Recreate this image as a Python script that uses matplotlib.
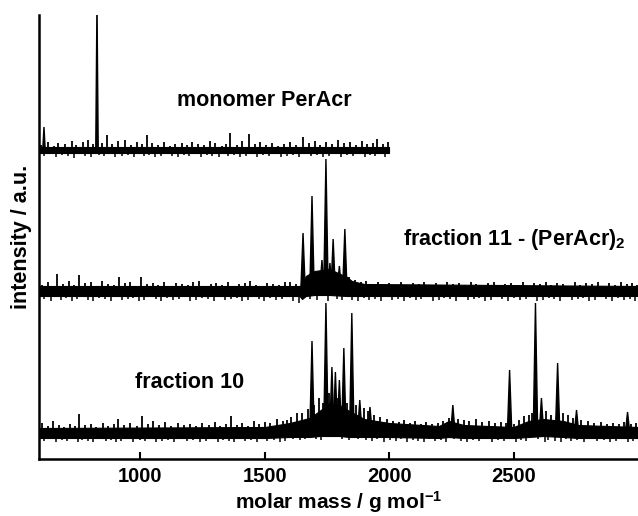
import matplotlib
matplotlib.use("Agg")
import matplotlib.pyplot as plt

# ---------------- data (intensity in a.u., relative to each trace's baseline) -------------
mono_peak_mass = [613, 826]
mono_peak_int = [23, 150]
mono_band_mass = [593, 2000]
mono_band_low = [-3, -3]
mono_band_high = [3, 3]
mono_up_mass = [600, 628, 652, 671, 699, 724, 741, 768, 790, 812, 845, 868, 885, 910, 940,
                962, 985, 1005, 1028, 1046, 1071, 1095, 1118, 1140, 1166, 1188, 1207, 1233, 1258,
                1279, 1302, 1327, 1345, 1361, 1388, 1410, 1437, 1459, 1483, 1505, 1530, 1552,
                1577, 1600, 1625, 1654, 1676, 1701, 1724, 1748, 1772, 1795, 1820, 1843, 1866,
                1890, 1913, 1937, 1951, 1975, 1995]
mono_up_int = [5, 8, 4, 7, 6, 9, 5, 8, 10, 6, 7, 15, 6, 9, 10,
               5, 8, 6, 15, 7, 5, 8, 4, 6, 7, 5, 8, 6, 5,
               9, 7, 4, 6, 17, 5, 9, 16, 6, 8, 5, 7, 4,
               6, 8, 5, 13, 7, 9, 5, 8, 6, 10, 7, 8, 5,
               9, 6, 7, 11, 6, 8]
mono_dn_mass = [612, 638, 662, 684, 710, 733, 755, 779, 801, 833, 856, 876, 897, 925, 951,
                973, 995, 1016, 1037, 1058, 1083, 1106, 1129, 1153, 1177, 1197, 1220, 1245, 1268,
                1290, 1315, 1336, 1353, 1375, 1399, 1423, 1448, 1471, 1494, 1517, 1541, 1564,
                1588, 1612, 1639, 1665, 1688, 1712, 1736, 1760, 1783, 1808, 1831, 1855, 1878,
                1901, 1925, 1944, 1963, 1985]
mono_dn_int = [6, 4, 7, 5, 6, 8, 4, 6, 7, 5, 6, 4, 7, 6, 5,
               7, 4, 6, 5, 7, 6, 4, 6, 7, 5, 6, 4, 7, 5,
               6, 7, 4, 6, 5, 7, 6, 4, 7, 5, 6, 4, 7,
               6, 5, 7, 4, 6, 5, 7, 6, 4, 7, 5, 6, 4,
               7, 5, 6, 4, 7]

f11_peak_mass = [1654, 1690, 1730, 1746, 1762, 1775, 1800, 1822]
f11_peak_int = [58, 95, 31, 132, 28, 52, 25, 62]
f11_band_mass = [593, 1640, 1650, 1665, 1700, 1760, 1830, 1850, 1900, 3000]
f11_band_low = [-5, -5, -8, -5, -4, -4, -5, -5, -5, -5]
f11_band_high = [5, 5, 6, 15, 20, 22, 14, 10, 7, 5]
f11_up_mass = [605, 630, 648, 667, 690, 712, 735, 755, 778, 800, 824, 848, 870, 893, 916,
               938, 960, 983, 1004, 1027, 1050, 1073, 1097, 1120, 1142, 1166, 1190, 1213, 1236,
               1260, 1283, 1306, 1330, 1352, 1375, 1398, 1420, 1441, 1465, 1488, 1511, 1534,
               1557, 1580, 1602, 1625, 1840, 1862, 1885, 1908, 1931, 1955, 1978, 2001, 2025,
               2048, 2071, 2094, 2118, 2141, 2164, 2187, 2210, 2234, 2257, 2280, 2303, 2327,
               2350, 2373, 2396, 2420, 2443, 2466, 2489, 2513, 2536, 2559, 2582, 2606, 2629,
               2652, 2675, 2698, 2722, 2745, 2768, 2791, 2815, 2838, 2861, 2884, 2907, 2931,
               2954, 2977, 2995]
f11_up_int = [6, 9, 5, 17, 7, 10, 6, 16, 8, 9, 5, 10, 7, 6, 14,
              8, 9, 5, 14, 7, 8, 6, 9, 5, 8, 7, 6, 9, 10,
              5, 7, 8, 6, 9, 5, 7, 8, 10, 6, 5, 8, 7,
              6, 9, 9, 7, 14, 11, 9, 10, 6, 9, 7, 8, 6,
              9, 5, 8, 7, 9, 6, 8, 5, 9, 7, 8, 6, 9,
              7, 5, 8, 9, 6, 7, 8, 6, 9, 5, 8, 7, 9,
              6, 8, 7, 5, 9, 6, 8, 7, 9, 5, 8, 6, 9,
              7, 8, 6]
f11_dn_mass = [615, 640, 660, 680, 702, 724, 746, 768, 790, 812, 836, 860, 882, 905, 928,
               950, 972, 995, 1016, 1039, 1062, 1085, 1108, 1131, 1154, 1178, 1201, 1225, 1248,
               1272, 1295, 1318, 1341, 1364, 1387, 1409, 1431, 1453, 1476, 1499, 1522, 1546,
               1569, 1591, 1614, 1636, 1680, 1712, 1755, 1790, 1812, 1850, 1874, 1897, 1920,
               1943, 1966, 1990, 2013, 2037, 2060, 2083, 2106, 2130, 2153, 2176, 2199, 2222,
               2246, 2269, 2292, 2315, 2339, 2362, 2385, 2408, 2432, 2455, 2478, 2501, 2525,
               2548, 2571, 2594, 2618, 2641, 2664, 2687, 2710, 2734, 2757, 2780, 2803, 2827,
               2850, 2873, 2896, 2919, 2943, 2966, 2988]
f11_dn_int = [8, 10, 6, 9, 7, 10, 8, 6, 9, 10, 7, 8, 10, 6, 9,
              8, 7, 10, 9, 6, 8, 10, 7, 9, 8, 6, 10, 9, 7,
              8, 10, 6, 9, 8, 7, 10, 9, 6, 8, 10, 7, 9,
              8, 6, 10, 12, 8, 9, 10, 8, 9, 9, 10, 7, 9,
              8, 10, 6, 9, 8, 10, 7, 9, 8, 6, 10, 9, 7,
              8, 10, 6, 9, 8, 7, 10, 9, 6, 8, 10, 7, 9,
              8, 6, 10, 9, 7, 8, 10, 6, 9, 8, 7, 10, 9,
              6, 8, 10, 7, 9, 8, 10]

f10_peak_mass = [1690, 1746, 1770, 1784, 1800, 1818, 1850, 1882, 1923, 2256, 2484, 2588, 2612,
                 2677, 2753, 2958]
f10_peak_int = [92, 130, 66, 61, 53, 85, 120, 33, 26, 28, 63, 130, 35, 70, 23, 21]
f10_band_mass = [593, 1500, 1600, 1680, 1720, 1760, 1800, 1840, 1900, 2000, 2200, 2240, 2300,
                 2400, 2500, 2560, 2620, 2700, 2760, 3000]
f10_band_low = [-5, -5, -4, -4, -3, -3, -3, -4, -4, -4, -5, -4, -5, -5, -5, -4, -3, -4, -5, -5]
f10_band_high = [5, 6, 10, 15, 22, 30, 28, 22, 14, 10, 7, 12, 8, 7, 6, 12, 14, 12, 8, 6]
f10_up_mass = [605, 628, 650, 672, 695, 718, 738, 755, 778, 800, 822, 850, 872, 893, 912,
               935, 960, 985, 1008, 1030, 1050, 1075, 1100, 1123, 1150, 1175, 1200, 1225, 1250,
               1275, 1300, 1322, 1345, 1365, 1388, 1410, 1432, 1455, 1478, 1500, 1522, 1550,
               1572, 1590, 1605, 1628, 1650, 1672, 1700, 1720, 1735, 1760, 1795, 1830, 1865,
               1900, 1915, 1940, 1965, 1990, 2015, 2038, 2060, 2083, 2105, 2128, 2150, 2172,
               2195, 2218, 2240, 2275, 2300, 2322, 2350, 2372, 2400, 2425, 2450, 2470, 2500,
               2520, 2540, 2560, 2575, 2630, 2650, 2700, 2720, 2740, 2770, 2800, 2822, 2850,
               2875, 2900, 2922, 2945, 2970, 2990]
f10_up_int = [10, 7, 12, 8, 6, 9, 7, 19, 8, 9, 6, 10, 7, 9, 14,
              8, 10, 7, 17, 9, 12, 8, 11, 7, 10, 8, 9, 7, 10,
              8, 11, 7, 9, 17, 8, 10, 7, 12, 9, 11, 10, 14,
              12, 13, 16, 20, 20, 24, 28, 35, 30, 40, 35, 30, 28,
              25, 22, 18, 16, 14, 12, 11, 13, 10, 12, 9, 11, 9,
              10, 12, 15, 14, 13, 12, 14, 11, 12, 10, 11, 10, 9,
              13, 17, 18, 20, 22, 18, 20, 18, 15, 13, 12, 10, 11,
              9, 10, 9, 11, 9, 10]
f10_dn_mass = [612, 638, 661, 684, 707, 729, 748, 767, 789, 811, 836, 861, 882, 903, 924,
               948, 972, 997, 1019, 1040, 1063, 1088, 1112, 1137, 1162, 1188, 1212, 1238, 1263,
               1288, 1311, 1334, 1355, 1377, 1399, 1421, 1444, 1467, 1489, 1511, 1536, 1561,
               1581, 1615, 1640, 1662, 1705, 1728, 1810, 1840, 1875, 1908, 1930, 1953, 1978,
               2003, 2027, 2049, 2072, 2094, 2117, 2139, 2161, 2184, 2207, 2230, 2262, 2288,
               2311, 2336, 2361, 2388, 2412, 2437, 2460, 2490, 2510, 2530, 2550, 2600, 2625,
               2640, 2665, 2690, 2710, 2730, 2755, 2785, 2811, 2836, 2862, 2888, 2911, 2933,
               2958, 2980]
f10_dn_int = [8, 6, 9, 7, 8, 6, 9, 7, 8, 9, 6, 8, 7, 9, 8,
              6, 9, 7, 8, 6, 9, 8, 7, 9, 6, 8, 7, 9, 8,
              6, 9, 7, 8, 9, 6, 8, 7, 9, 6, 8, 7, 9,
              8, 6, 7, 6, 6, 7, 6, 7, 6, 7, 8, 6, 9,
              7, 8, 6, 9, 7, 8, 9, 6, 8, 7, 9, 6, 8,
              9, 7, 8, 6, 9, 7, 8, 6, 9, 7, 8, 6, 9,
              7, 8, 9, 6, 8, 7, 9, 6, 8, 7, 9, 8, 6,
              9, 8]

labels = ["monomer PerAcr", r"fraction 11 - (PerAcr)$_\mathbf{2}$", "fraction 10"]
xticks = [1000, 1500, 2000, 2500]
xlabel = r"molar mass / g mol$^{\mathbf{-1}}$"
ylabel = "intensity / a.u."

# ---------------- style / layout ----------------
plt.rcParams["font.family"] = ["Liberation Sans", "DejaVu Sans"]
plt.rcParams["mathtext.fontset"] = "custom"
plt.rcParams["mathtext.rm"] = "Liberation Sans:bold"
plt.rcParams["mathtext.bf"] = "Liberation Sans:bold"
plt.rcParams["mathtext.it"] = "Liberation Sans:bold"

fig = plt.figure(figsize=(6.38, 5.16), dpi=100)
ax = fig.add_axes([39 / 638, 57 / 516, 1 - 39 / 638, 444 / 516])
ax.set_xlim(593, 3000)
ax.set_ylim(0, 444)

offsets = [309, 168, 26]
hw = [5, 9, 9]


def draw_trace(off, half_w, band_m, band_lo, band_hi, up_m, up_i, dn_m, dn_i, pk_m, pk_i):
    ax.fill_between(band_m, [off + v for v in band_lo], [off + v for v in band_hi],
                    color="black", lw=0.8)
    ax.vlines(up_m, off, [off + v for v in up_i], color="black", lw=1.3)
    ax.vlines(dn_m, [off - v for v in dn_i], off, color="black", lw=1.1)
    for m, h in zip(pk_m, pk_i):
        ax.fill([m - half_w, m, m + half_w], [off, off + h, off], color="black", lw=1.0,
                clip_on=True)


draw_trace(offsets[0], hw[0], mono_band_mass, mono_band_low, mono_band_high,
           mono_up_mass, mono_up_int, mono_dn_mass, mono_dn_int, mono_peak_mass, mono_peak_int)
draw_trace(offsets[1], hw[1], f11_band_mass, f11_band_low, f11_band_high,
           f11_up_mass, f11_up_int, f11_dn_mass, f11_dn_int, f11_peak_mass, f11_peak_int)
draw_trace(offsets[2], hw[2], f10_band_mass, f10_band_low, f10_band_high,
           f10_up_mass, f10_up_int, f10_dn_mass, f10_dn_int, f10_peak_mass, f10_peak_int)

tfont = dict(fontsize=15.5, fontweight="bold", ha="left", va="baseline")
ax.text(1148, 353, labels[0], **tfont)
ax.text(2055, 214, labels[1], **tfont)
ax.text(980, 71, labels[2], **tfont)

ax.spines["top"].set_visible(False)
ax.spines["right"].set_visible(False)
ax.spines["left"].set_linewidth(1.8)
ax.spines["bottom"].set_linewidth(1.8)
ax.set_yticks([])
ax.set_xticks(xticks)
ax.set_xticklabels([str(t) for t in xticks], fontsize=14.5, fontweight="bold")
ax.tick_params(axis="x", direction="in", length=5, width=1.5, pad=6)
ax.set_xlabel(xlabel, fontsize=15, fontweight="bold", labelpad=2)
ax.set_ylabel(ylabel, fontsize=15.5, fontweight="bold", labelpad=5)

fig.savefig("out.png", dpi=100)
